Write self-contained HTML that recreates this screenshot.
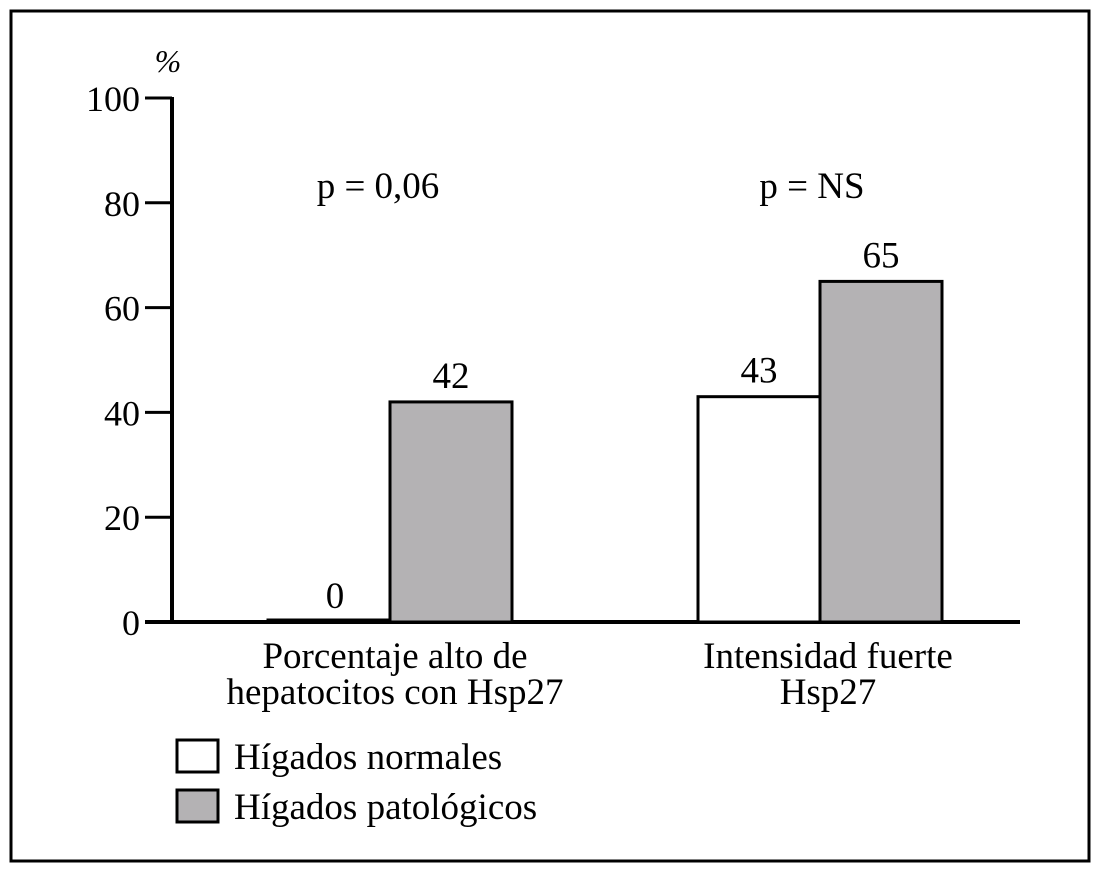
<!DOCTYPE html>
<html><head><meta charset="utf-8"><style>
body{margin:0;background:#fff;}
svg text{font-family:"Liberation Serif",serif;font-size:37px;fill:#000;}
</style></head><body>
<svg width="1100" height="876">
<rect x="11" y="11" width="1078" height="850" fill="none" stroke="#000" stroke-width="3"/>
<g id="axes"></g><g id="bars"></g>
<text x="168" y="72" text-anchor="middle" font-style="italic" style="font-size:32px">%</text>
<text x="378" y="198" text-anchor="middle">p = 0,06</text>
<text x="812" y="198" text-anchor="middle">p = NS</text>
<text x="395" y="668" text-anchor="middle"><tspan x="395">Porcentaje alto de</tspan><tspan x="395" dy="36">hepatocitos con Hsp27</tspan></text>
<text x="828" y="668" text-anchor="middle"><tspan x="828">Intensidad fuerte</tspan><tspan x="828" dy="36">Hsp27</tspan></text>
<rect x="177" y="740" width="41" height="32" fill="#fff" stroke="#000" stroke-width="3"/>
<text x="234" y="769">Hígados normales</text>
<rect x="177" y="790" width="41" height="32" fill="#b4b2b4" stroke="#000" stroke-width="3"/>
<text x="234" y="819">Hígados patológicos</text>
</svg>
<script>
const categories=["Porcentaje alto de hepatocitos con Hsp27","Intensidad fuerte Hsp27"];
const normalValues=[0,43];
const pathologicValues=[42,65];
const yTicks=[0,20,40,60,80,100];
const ns="http://www.w3.org/2000/svg";
const y0=622,yTop=98;
function y(v){return y0-(y0-yTop)*v/100;}
const groupStart=[268,698],bw=122;
function mk(t,a,p){const e=document.createElementNS(ns,t);for(const k in a)e.setAttribute(k,a[k]);p.appendChild(e);return e;}
const axes=document.getElementById('axes'),bars=document.getElementById('bars');
yTicks.forEach(t=>{
 const l=mk('line',{x1:145,x2:172,y1:y(t),y2:y(t),stroke:'#000','stroke-width':3},axes);
 
 
 const tx=mk('text',{x:140,y:y(t)+13,'text-anchor':'end',style:'font-size:36px'},axes);tx.textContent=t;
 
 
});
const ya=mk('line',{x1:172,x2:172,y1:yTop-1,y2:y0+1,stroke:'#000','stroke-width':4},axes);


categories.forEach((c,i)=>{
 [[normalValues[i],'#fff',0],[pathologicValues[i],'#b4b2b4',1]].forEach(([v,f,j])=>{
  const x=groupStart[i]+j*bw;
  const h=Math.max(y0-y(v),2);
  const r=mk('rect',{x:x,y:y0-h,width:bw,height:h,fill:f,stroke:'#000','stroke-width':3},bars);
  
  
  const cx=(v===0)?x+bw/2+6:x+bw/2;
  const t=mk('text',{x:cx,y:y(v)-14,'text-anchor':'middle'},bars);t.textContent=v;
  
  
 });
});
const xa=mk('line',{x1:145,x2:1020,y1:y0,y2:y0,stroke:'#000','stroke-width':4},axes);


</script>
</body></html>
